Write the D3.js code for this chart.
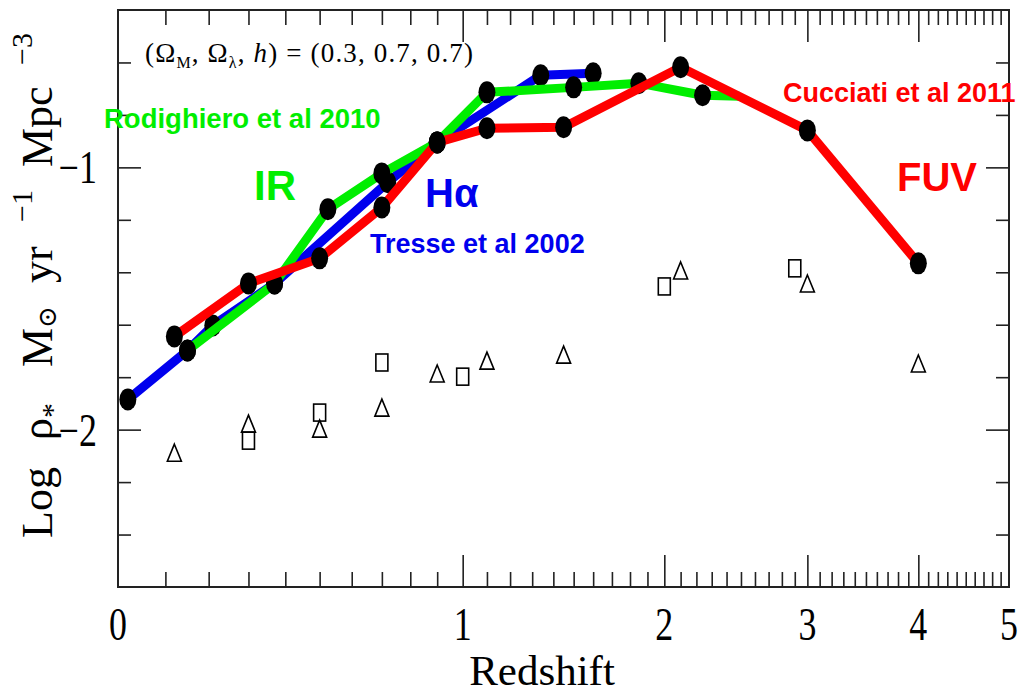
<!DOCTYPE html>
<html>
<head>
<meta charset="utf-8">
<script src="https://cdn.jsdelivr.net/npm/d3@7"></script>
<style>
  html, body { margin: 0; padding: 0; background: #fff; }
  svg { display: block; }
</style>
</head>
<body>
<div id="chart"></div>
<script>
// Cosmic star-formation-rate density vs. redshift (log(1+z) axis)

// Tresse et al 2002 (H-alpha), blue
const tresseZ   = [0.02, 0.15, 0.21, 0.37, 0.72, 0.90, 1.34, 1.60];
const tresseSFR = [-1.885, -1.698, -1.603, -1.443, -1.057, -0.905, -0.649, -0.641];

// Rodighiero et al 2010 (IR), green
const rodighieroZ   = [0.15, 0.37, 0.525, 0.70, 0.90, 1.10, 1.50, 1.85, 2.24, 2.49];
const rodighieroSFR = [-1.698, -1.443, -1.160, -1.023, -0.905, -0.714, -0.695, -0.679, -0.725, -0.729];
const rodighieroDot = [true, true, true, true, true, true, true, true, true, false];

// Cucciati et al 2011 (FUV), red
const cucciatiZ   = [0.12, 0.30, 0.50, 0.70, 0.90, 1.10, 1.45, 2.10, 3.00, 4.00];
const cucciatiSFR = [-1.645, -1.443, -1.347, -1.153, -0.905, -0.851, -0.847, -0.618, -0.859, -1.366];

// Open triangles
const triZ   = [0.12, 0.30, 0.50, 0.70, 0.90, 1.10, 1.45, 2.10, 3.00, 4.00];
const triSFR = [-2.088, -1.977, -1.996, -1.916, -1.786, -1.737, -1.714, -1.393, -1.443, -1.748];

// Open squares
const sqZ   = [0.30, 0.50, 0.70, 1.00, 2.00, 2.90];
const sqSFR = [-2.042, -1.935, -1.744, -1.798, -1.454, -1.385];

// Axis ticks
const xMajorTicks = [1, 2, 3, 4];
const xTickLabels = [0, 1, 2, 3, 4, 5];
const yMajorTicks = [-2, -1];
const yMinorTicks = [-2.4, -2.2, -1.8, -1.6, -1.4, -1.2, -0.8, -0.6];
const yTickLabels = ["\u22122", "\u22121"];

const width = 1023, height = 694;
const plotLeft = 118, plotRight = 1009, plotTop = 10, plotBottom = 587;

const svg = d3.select("#chart").append("svg")
  .attr("width", width).attr("height", height)
  .style("background", "#fff");

// x runs on log(1+z)
const xLog = d3.scaleLog().domain([1, 6]).range([plotLeft, plotRight]);
const x = z => xLog(1 + z);
const y = d3.scaleLinear().domain([-2.6, -0.4]).range([plotBottom, plotTop]);

const xMinorTicks = d3.range(1, 50).map(i => i / 10).filter(z => Math.abs(z - Math.round(z)) > 1e-6);

const tickColor = "#222";
function styleAxis(g) {
  g.select(".domain").remove();
  g.selectAll(".tick line").attr("stroke", tickColor).attr("stroke-width", 1.6);
  g.selectAll(".tick text").remove();
}

// bottom edge ticks (pointing up) and top edge ticks (pointing down)
[[xMinorTicks, 15], [xMajorTicks, 32]].forEach(([vals, len]) => {
  svg.append("g").attr("transform", `translate(0,${plotBottom})`)
    .call(d3.axisTop(xLog).tickValues(vals.map(z => 1 + z)).tickSize(len).tickFormat(""))
    .call(styleAxis);
  svg.append("g").attr("transform", `translate(0,${plotTop})`)
    .call(d3.axisBottom(xLog).tickValues(vals.map(z => 1 + z)).tickSize(len).tickFormat(""))
    .call(styleAxis);
});

// left edge ticks (pointing right) and right edge ticks (pointing left)
[[yMinorTicks, 13], [yMajorTicks, 23]].forEach(([vals, len]) => {
  svg.append("g").attr("transform", `translate(${plotLeft},0)`)
    .call(d3.axisRight(y).tickValues(vals).tickSize(len).tickFormat(""))
    .call(styleAxis);
  svg.append("g").attr("transform", `translate(${plotRight},0)`)
    .call(d3.axisLeft(y).tickValues(vals).tickSize(len).tickFormat(""))
    .call(styleAxis);
});

// frame
svg.append("rect")
  .attr("x", plotLeft).attr("y", plotTop)
  .attr("width", plotRight - plotLeft).attr("height", plotBottom - plotTop)
  .attr("fill", "none").attr("stroke", tickColor).attr("stroke-width", 2);

const serif = "'Liberation Serif', 'DejaVu Serif', serif";
const sans = "'Liberation Sans', Arial, sans-serif";

// x tick labels
svg.append("g").selectAll("text").data(xTickLabels).join("text")
  .attr("transform", d => `translate(${x(d)},640) scale(0.78,1)`)
  .attr("text-anchor", "middle")
  .attr("font-family", serif).attr("font-size", 46)
  .attr("fill", "#000")
  .text(d => d);

// y tick labels
svg.append("g").selectAll("text").data(yMajorTicks).join("text")
  .attr("transform", d => `translate(97,${y(d) + 16}) scale(0.78,1)`)
  .attr("text-anchor", "end")
  .attr("font-family", serif).attr("font-size", 46)
  .attr("fill", "#000")
  .text((d, i) => yTickLabels[i]);

// x title
svg.append("text")
  .attr("x", 542).attr("y", 685)
  .attr("text-anchor", "middle")
  .attr("font-family", serif).attr("font-size", 43)
  .attr("fill", "#000")
  .text("Redshift");

// y title (rotated), pieces placed along the axis
const yTitle = svg.append("text")
  .attr("transform", "rotate(-90)")
  .attr("font-family", serif).attr("font-size", 44)
  .attr("fill", "#000");
yTitle.append("tspan").attr("x", -538).attr("y", 52).text("Log");
yTitle.append("tspan").attr("x", -440).attr("y", 52).text("\u03C1");
yTitle.append("tspan").attr("y", 62).attr("font-size", 30).text("*");
yTitle.append("tspan").attr("x", -367).attr("y", 52).text("M");
yTitle.append("tspan").attr("y", 56).attr("font-size", 26).text("\u2299");
yTitle.append("tspan").attr("x", -283).attr("y", 52).text("yr");
yTitle.append("tspan").attr("x", -222).attr("y", 32).attr("font-size", 30).text("\u22121");
yTitle.append("tspan").attr("x", -167).attr("y", 52).text("Mpc");
yTitle.append("tspan").attr("x", -65).attr("y", 32).attr("font-size", 30).text("\u22123");

// cosmology annotation
const cosmo = svg.append("text")
  .attr("x", 145).attr("y", 62)
  .attr("font-family", serif).attr("font-size", 27)
  .attr("fill", "#000")
  .attr("textLength", 328).attr("lengthAdjust", "spacing");
cosmo.append("tspan").text("(\u03A9");
cosmo.append("tspan").attr("dy", 6).attr("font-size", 16).text("M");
cosmo.append("tspan").attr("dy", -6).text(", \u03A9");
cosmo.append("tspan").attr("dy", 6).attr("font-size", 16).text("\u03BB");
cosmo.append("tspan").attr("dy", -6).text(", ");
cosmo.append("tspan").attr("font-style", "italic").text("h");
cosmo.append("tspan").text(") = (0.3, 0.7, 0.7)");

// open symbols
const triSize = { w: 7, h: 8.5 };
svg.append("g").selectAll("path").data(triZ.map((z, i) => ({ z, v: triSFR[i] }))).join("path")
  .attr("d", d => {
    const cx = x(d.z), cy = y(d.v);
    return `M${cx},${cy - triSize.h}L${cx + triSize.w},${cy + triSize.h}L${cx - triSize.w},${cy + triSize.h}Z`;
  })
  .attr("fill", "none").attr("stroke", "#000").attr("stroke-width", 1.6);

svg.append("g").selectAll("rect").data(sqZ.map((z, i) => ({ z, v: sqSFR[i] }))).join("rect")
  .attr("x", d => x(d.z) - 6).attr("y", d => y(d.v) - 8.5)
  .attr("width", 12).attr("height", 17)
  .attr("fill", "none").attr("stroke", "#000").attr("stroke-width", 1.6);

// coloured series: line then its dots
const line = d3.line().x(d => x(d.z)).y(d => y(d.v));
function drawSeries(zs, vs, color, dots) {
  const pts = zs.map((z, i) => ({ z, v: vs[i], dot: dots ? dots[i] : true }));
  svg.append("path").datum(pts)
    .attr("d", line)
    .attr("fill", "none").attr("stroke", color)
    .attr("stroke-width", 9).attr("stroke-linejoin", "round");
  svg.append("g").selectAll("ellipse").data(pts.filter(d => d.dot)).join("ellipse")
    .attr("cx", d => x(d.z)).attr("cy", d => y(d.v))
    .attr("rx", 8.5).attr("ry", 11)
    .attr("fill", "#000");
}
const blue = "#0000ee", green = "#00ee00", red = "#ff0000";
drawSeries(tresseZ, tresseSFR, blue);
drawSeries(rodighieroZ, rodighieroSFR, green, rodighieroDot);
drawSeries(cucciatiZ, cucciatiSFR, red);

// series labels
const labels = [
  { t: "Rodighiero et al 2010", x: 104, y: 128, s: 27.5, c: green },
  { t: "IR", x: 254, y: 200, s: 42, c: green },
  { t: "H\u03B1", x: 425, y: 207, s: 40, c: blue },
  { t: "Tresse et al 2002", x: 370, y: 253, s: 27, c: blue },
  { t: "Cucciati et al 2011", x: 783, y: 102, s: 27, c: red },
  { t: "FUV", x: 897, y: 191, s: 40, c: red }
];
svg.append("g").selectAll("text").data(labels).join("text")
  .attr("x", d => d.x).attr("y", d => d.y)
  .attr("font-family", sans).attr("font-weight", "bold")
  .attr("font-size", d => d.s).attr("fill", d => d.c)
  .text(d => d.t);
</script>
</body>
</html>
